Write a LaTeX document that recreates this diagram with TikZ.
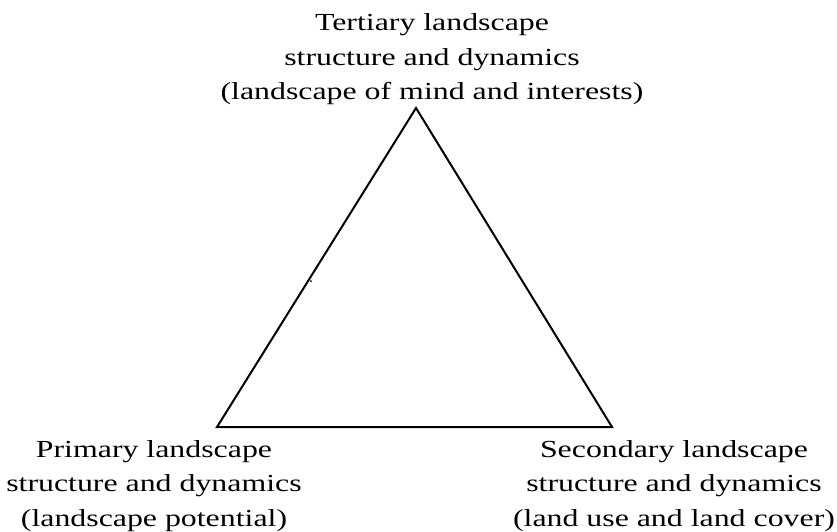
\documentclass[tikz,border=0pt]{standalone}
\usepackage{fontspec}
\setmainfont{Liberation Serif}[FakeStretch=1.3]
\begin{document}
\begin{tikzpicture}[x=1pt,y=-1pt,
  lbl/.style={align=center,inner sep=0pt,font=\fontsize{24.5}{34.5}\selectfont,anchor=base},
  edge/.style={line width=2pt,line join=miter}]
\useasboundingbox (0,0) rectangle (837,531);
\coordinate (apex) at (416,108);
\coordinate (bl) at (217,427);
\coordinate (br) at (612,427);
\draw[edge] (apex) -- (bl) -- (br) -- cycle;
\node[lbl] (tert) at (432,99.5) {Tertiary landscape\\structure and dynamics\\(landscape of mind and interests)};
\node[lbl] (prim) at (154,526) {Primary landscape\\structure and dynamics\\(landscape potential)};
\node[lbl] (sec) at (674,526) {Secondary landscape\\structure and dynamics\\(land use and land cover)};
\fill (311,281) circle (1pt);
\end{tikzpicture}
\end{document}
